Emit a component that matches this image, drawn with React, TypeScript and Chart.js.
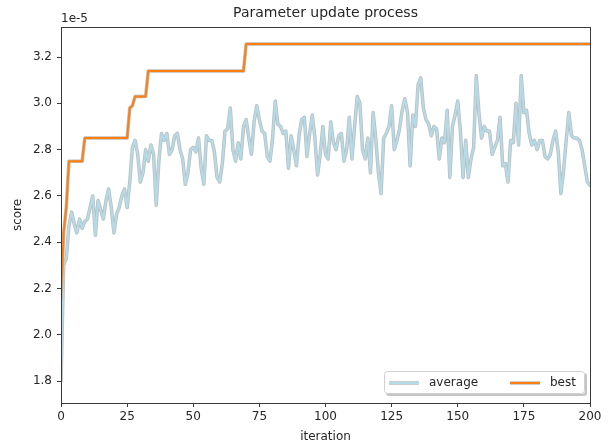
import React, { useEffect, useRef } from "react";
import { Chart, registerables } from "chart.js";

Chart.register(...registerables);

const titleText = "Parameter update process";
const xAxisLabel = "iteration";
const yAxisLabel = "score";
const offsetLabel = "1e-5";
const seriesNames = ["average", "best"];

const iterations: number[] = Array.from({ length: 201 }, (_, i) => i);

// values shown in units of 1e-5
const averageScores: number[] = [
  1.80, 2.30, 2.33, 2.47, 2.53, 2.48, 2.44, 2.50, 2.46, 2.49,
  2.50, 2.55, 2.60, 2.43, 2.58, 2.54, 2.50, 2.58, 2.63, 2.55,
  2.44, 2.52, 2.55, 2.60, 2.63, 2.55, 2.66, 2.81, 2.84, 2.78,
  2.66, 2.70, 2.80, 2.75, 2.82, 2.78, 2.56, 2.75, 2.87, 2.84,
  2.87, 2.78, 2.80, 2.86, 2.87, 2.80, 2.76, 2.65, 2.70, 2.80,
  2.81, 2.79, 2.85, 2.72, 2.65, 2.86, 2.84, 2.84, 2.79, 2.68,
  2.66, 2.74, 2.88, 2.89, 2.98, 2.80, 2.75, 2.83, 2.76, 2.90,
  2.93, 2.85, 2.78, 2.92, 2.99, 2.93, 2.88, 2.87, 2.77, 2.75,
  2.85, 3.01, 2.91, 2.90, 2.87, 2.88, 2.72, 2.86, 2.80, 2.73,
  2.86, 2.93, 2.94, 2.77, 2.87, 2.95, 2.85, 2.69, 2.78, 2.90,
  2.78, 2.76, 2.92, 2.83, 2.80, 2.86, 2.87, 2.75, 2.80, 2.94,
  2.76, 2.90, 3.03, 3.00, 2.80, 2.76, 2.85, 2.70, 2.96, 2.85,
  2.70, 2.61, 2.85, 2.87, 2.90, 2.99, 2.80, 2.84, 2.89, 2.97,
  3.02, 2.96, 2.73, 2.95, 2.90, 3.08, 3.11, 2.98, 2.93, 2.91,
  2.86, 2.90, 2.89, 2.76, 2.85, 2.83, 2.97, 2.68, 2.90, 2.95,
  3.01, 2.88, 2.68, 2.84, 2.68, 2.76, 2.81, 3.12, 2.96, 2.85,
  2.90, 2.88, 2.88, 2.78, 2.81, 2.84, 2.94, 2.73, 2.74, 2.66,
  2.84, 2.83, 3.00, 2.82, 3.12, 2.96, 2.97, 2.87, 2.82, 2.84,
  2.80, 2.84, 2.84, 2.77, 2.76, 2.78, 2.84, 2.88, 2.79, 2.61,
  2.71, 2.84, 2.96, 2.86, 2.85, 2.85, 2.84, 2.80, 2.73, 2.66,
  2.645,
];

const bestScores: number[] = [
  2.15, 2.44, 2.55, 2.75, 2.75, 2.75, 2.75, 2.75, 2.75, 2.85,
  2.85, 2.85, 2.85, 2.85, 2.85, 2.85, 2.85, 2.85, 2.85, 2.85,
  2.85, 2.85, 2.85, 2.85, 2.85, 2.85, 2.98, 2.99, 3.03, 3.03,
  3.03, 3.03, 3.03, 3.14, 3.14, 3.14, 3.14, 3.14, 3.14, 3.14,
  3.14, 3.14, 3.14, 3.14, 3.14, 3.14, 3.14, 3.14, 3.14, 3.14,
  3.14, 3.14, 3.14, 3.14, 3.14, 3.14, 3.14, 3.14, 3.14, 3.14,
  3.14, 3.14, 3.14, 3.14, 3.14, 3.14, 3.14, 3.14, 3.14, 3.14,
  3.256, 3.256, 3.256, 3.256, 3.256, 3.256, 3.256, 3.256, 3.256, 3.256,
  3.256, 3.256, 3.256, 3.256, 3.256, 3.256, 3.256, 3.256, 3.256, 3.256,
  3.256, 3.256, 3.256, 3.256, 3.256, 3.256, 3.256, 3.256, 3.256, 3.256,
  3.256, 3.256, 3.256, 3.256, 3.256, 3.256, 3.256, 3.256, 3.256, 3.256,
  3.256, 3.256, 3.256, 3.256, 3.256, 3.256, 3.256, 3.256, 3.256, 3.256,
  3.256, 3.256, 3.256, 3.256, 3.256, 3.256, 3.256, 3.256, 3.256, 3.256,
  3.256, 3.256, 3.256, 3.256, 3.256, 3.256, 3.256, 3.256, 3.256, 3.256,
  3.256, 3.256, 3.256, 3.256, 3.256, 3.256, 3.256, 3.256, 3.256, 3.256,
  3.256, 3.256, 3.256, 3.256, 3.256, 3.256, 3.256, 3.256, 3.256, 3.256,
  3.256, 3.256, 3.256, 3.256, 3.256, 3.256, 3.256, 3.256, 3.256, 3.256,
  3.256, 3.256, 3.256, 3.256, 3.256, 3.256, 3.256, 3.256, 3.256, 3.256,
  3.256, 3.256, 3.256, 3.256, 3.256, 3.256, 3.256, 3.256, 3.256, 3.256,
  3.256, 3.256, 3.256, 3.256, 3.256, 3.256, 3.256, 3.256, 3.256, 3.256,
  3.256,
];

const xTicks = [0, 25, 50, 75, 100, 125, 150, 175, 200];
const yTicks = [1.8, 2.0, 2.2, 2.4, 2.6, 2.8, 3.0, 3.2];

const W = 611;
const H = 447;
const FONT = "'DejaVu Sans', sans-serif";
const AVG_COLOR = "#b3dbe8";
const BEST_COLOR = "#ff7f0e";
const OUTLINE = "#bdbdbd";
const TEXT = "#262626";
const AXIS = "#3a3a3a";

const decorPlugin = {
  id: "decor",
  afterDraw(chart: any) {
    const ctx: CanvasRenderingContext2D = chart.ctx;
    const a = chart.chartArea;
    ctx.save();
    ctx.strokeStyle = AXIS;
    ctx.lineWidth = 1;
    ctx.strokeRect(Math.round(a.left) + 0.5, Math.round(a.top) + 0.5, Math.round(a.right - a.left), Math.round(a.bottom - a.top));
    ctx.fillStyle = TEXT;
    ctx.font = `14px ${FONT}`;
    ctx.textAlign = "center";
    ctx.textBaseline = "alphabetic";
    ctx.fillText(titleText, (a.left + a.right) / 2, 17);
    ctx.font = `12px ${FONT}`;
    ctx.textAlign = "left";
    ctx.fillText(offsetLabel, a.left, 22);
    ctx.textAlign = "center";
    ctx.fillText(xAxisLabel, (a.left + a.right) / 2, 440);
    ctx.save();
    ctx.translate(21, (a.top + a.bottom) / 2);
    ctx.rotate(-Math.PI / 2);
    ctx.textBaseline = "alphabetic";
    ctx.fillText(yAxisLabel, 0, 0);
    ctx.restore();

    const lx = 384, ly = 371, lw = 201, lh = 23, r = 3;
    const rr = (x: number, y: number, w: number, h: number) => {
      ctx.beginPath();
      ctx.moveTo(x + r, y);
      ctx.lineTo(x + w - r, y);
      ctx.quadraticCurveTo(x + w, y, x + w, y + r);
      ctx.lineTo(x + w, y + h - r);
      ctx.quadraticCurveTo(x + w, y + h, x + w - r, y + h);
      ctx.lineTo(x + r, y + h);
      ctx.quadraticCurveTo(x, y + h, x, y + h - r);
      ctx.lineTo(x, y + r);
      ctx.quadraticCurveTo(x, y, x + r, y);
      ctx.closePath();
    };
    ctx.fillStyle = "rgba(140,140,140,0.5)";
    rr(lx + 2, ly + 2, lw, lh);
    ctx.fill();
    ctx.fillStyle = "#ffffff";
    rr(lx, ly, lw, lh);
    ctx.fill();
    ctx.strokeStyle = "#d0d0d0";
    ctx.lineWidth = 1;
    rr(lx + 0.5, ly + 0.5, lw - 1, lh - 1);
    ctx.stroke();

    const cy = ly + 12;
    const drawSample = (x0: number, x1: number, color: string) => {
      ctx.lineCap = "butt";
      ctx.strokeStyle = OUTLINE;
      ctx.lineWidth = 3.5;
      ctx.beginPath();
      ctx.moveTo(x0, cy);
      ctx.lineTo(x1, cy);
      ctx.stroke();
      ctx.strokeStyle = color;
      ctx.lineWidth = 2;
      ctx.beginPath();
      ctx.moveTo(x0, cy);
      ctx.lineTo(x1, cy);
      ctx.stroke();
    };
    drawSample(389, 419, AVG_COLOR);
    drawSample(510, 540, BEST_COLOR);
    ctx.fillStyle = TEXT;
    ctx.font = `12px ${FONT}`;
    ctx.textAlign = "left";
    ctx.textBaseline = "middle";
    ctx.fillText(seriesNames[0], 429, cy);
    ctx.fillText(seriesNames[1], 550, cy);
    ctx.restore();
  },
};

export default function App() {
  const ref = useRef<HTMLCanvasElement | null>(null);
  useEffect(() => {
    document.body.style.margin = "0";
    const canvas = ref.current;
    if (!canvas) return;
    const avgPts = averageScores.map((v, i) => ({ x: iterations[i], y: v }));
    const bestPts = bestScores.map((v, i) => ({ x: iterations[i], y: v }));
    const common = { pointRadius: 0, tension: 0, fill: false, borderJoinStyle: "round" as const, borderCapStyle: "round" as const };
    const chart = new Chart(canvas, {
      type: "line",
      data: {
        datasets: [
          { ...common, label: seriesNames[1], data: bestPts, borderColor: BEST_COLOR, borderWidth: 2, order: 0 },
          { ...common, label: "best-outline", data: bestPts, borderColor: OUTLINE, borderWidth: 3.5, order: 1 },
          { ...common, label: seriesNames[0], data: avgPts, borderColor: AVG_COLOR, borderWidth: 2, order: 2 },
          { ...common, label: "average-outline", data: avgPts, borderColor: OUTLINE, borderWidth: 3.5, order: 3 },
        ],
      },
      options: {
        animation: false,
        responsive: false,
        devicePixelRatio: 1,
        events: [],
        layout: { padding: { top: 27, right: 21, left: 0, bottom: 0 } },
        plugins: { legend: { display: false }, title: { display: false }, tooltip: { enabled: false } },
        scales: {
          x: {
            type: "linear",
            min: 0,
            max: 200,
            afterFit: (s: any) => { s.height = 44; },
            afterBuildTicks: (s: any) => { s.ticks = xTicks.map((v) => ({ value: v })); },
            grid: { display: true, drawOnChartArea: false, drawTicks: true, tickLength: 4, tickColor: AXIS },
            border: { display: true, color: AXIS },
            ticks: { color: TEXT, font: { family: FONT, size: 12 }, padding: 3, maxRotation: 0, autoSkip: false, callback: (v: any) => String(v) },
          },
          y: {
            type: "linear",
            min: 1.705,
            max: 3.33,
            afterFit: (s: any) => { s.width = 61; },
            afterBuildTicks: (s: any) => { s.ticks = yTicks.map((v) => ({ value: v })); },
            grid: { display: true, drawOnChartArea: false, drawTicks: true, tickLength: 4, tickColor: AXIS },
            border: { display: true, color: AXIS },
            ticks: { color: TEXT, font: { family: FONT, size: 12 }, padding: 5, autoSkip: false, callback: (v: any) => Number(v).toFixed(1) },
          },
        },
      },
      plugins: [decorPlugin],
    } as any);
    return () => chart.destroy();
  }, []);
  return (
    <div style={{ position: "relative", width: W, height: H, background: "#fff" }}>
      <canvas ref={ref} width={W} height={H} style={{ display: "block", width: W, height: H }} />
    </div>
  );
}
